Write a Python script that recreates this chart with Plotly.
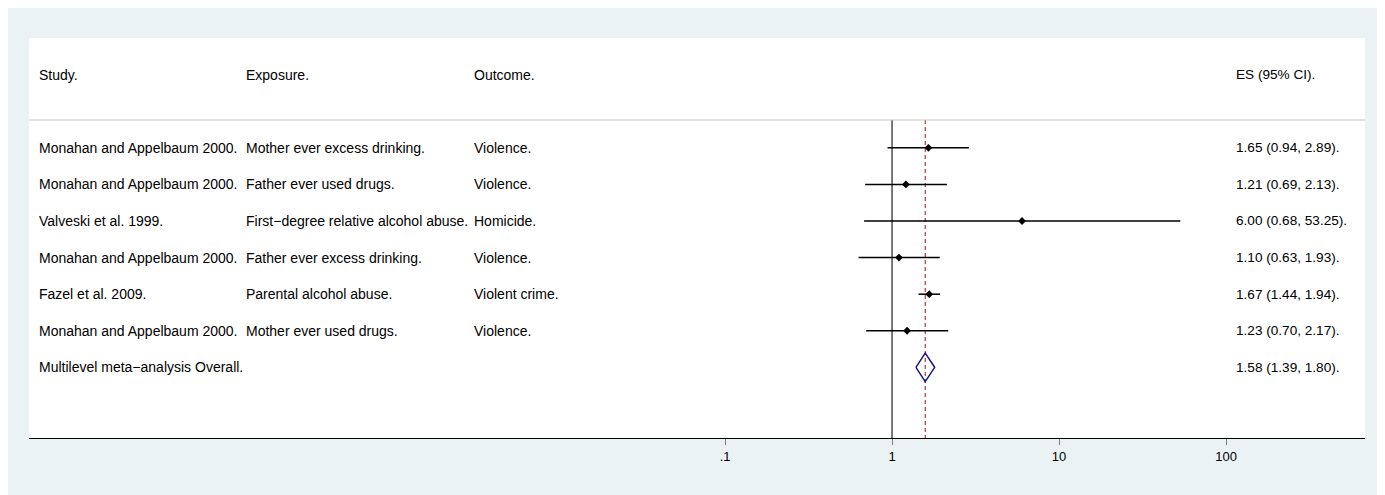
import plotly.graph_objects as go

studies = ["Monahan and Appelbaum 2000", "Monahan and Appelbaum 2000", "Valveski et al. 1999",
           "Monahan and Appelbaum 2000", "Fazel et al. 2009", "Monahan and Appelbaum 2000"]
exposures = ["Mother ever excess drinking", "Father ever used drugs", "First\u2212degree relative alcohol abuse",
             "Father ever excess drinking", "Parental alcohol abuse", "Mother ever used drugs"]
outcomes = ["Violence", "Violence", "Homicide", "Violence", "Violent crime", "Violence"]
es = [1.65, 1.21, 6.00, 1.10, 1.67, 1.23]
lo = [0.94, 0.69, 0.68, 0.63, 1.44, 0.70]
hi = [2.89, 2.13, 53.25, 1.93, 1.94, 2.17]
overall_label = "Multilevel meta\u2212analysis Overall"
overall = [1.58, 1.39, 1.80]
headers = ["Study", "Exposure", "Outcome", "ES (95% CI)"]
tick_vals = [0.1, 1, 10, 100]
tick_text = [".1", "1", "10", "100"]

BG = "#EAF2F3"
FONT = "Liberation Sans, Arial, Helvetica, sans-serif"
W, H = 1377, 487
L, R, T, B = 21, 20, 30, 57
PW = W - L - R
PAGE_OFF = 8  # body margin of the page

def px(x_page):
    return (x_page - PAGE_OFF - L) / PW

rows = [3 + i for i in range(len(es))]
row_overall = 3 + len(es)
y_header = 1.0
y_div = 2.24
y_bottom = 10.93

TXT = 14
NUM = 13.6

fig = go.Figure()

cx, cy = [], []
for y, a, b in zip(rows, lo, hi):
    cx += [a, b, None]
    cy += [y, y, None]
fig.add_trace(go.Scatter(x=[1, 1], y=[y_div, y_bottom], mode="lines",
                         line=dict(color="#6A6A6A", width=1.8), hoverinfo="skip", showlegend=False))
fig.add_trace(go.Scatter(x=[overall[0], overall[0]], y=[y_div, y_bottom], mode="lines",
                         line=dict(color="#B22222", width=1.1, dash="4px,3px"), hoverinfo="skip",
                         showlegend=False))
fig.add_trace(go.Scatter(x=cx, y=cy, mode="lines", line=dict(color="black", width=1.5),
                         hoverinfo="skip", showlegend=False))
fig.add_trace(go.Scatter(x=es, y=rows, mode="markers",
                         marker=dict(symbol="diamond", size=6, color="black"),
                         showlegend=False))
dh = 0.39
fig.add_trace(go.Scatter(x=[overall[1], overall[0], overall[2], overall[0], overall[1]],
                         y=[row_overall, row_overall - dh, row_overall, row_overall + dh, row_overall],
                         mode="lines", line=dict(color="#1A1A80", width=1.5),
                         hoverinfo="skip", showlegend=False))

ann = []
col_x = [37, 244, 472, 1234]

def add(xp, y, text, size):
    ann.append(dict(x=px(xp), y=y, xref="paper", yref="y", text=text,
                    xanchor="left", yanchor="middle", showarrow=False,
                    font=dict(family=FONT, size=size, color="black")))

for hx, h in zip(col_x[:3], headers[:3]):
    add(hx, y_header, h + ".", TXT)
add(col_x[3], y_header, headers[3] + ".", NUM)
for i, y in enumerate(rows):
    add(col_x[0], y, studies[i] + ".", TXT)
    add(col_x[1], y, exposures[i] + ".", TXT)
    add(col_x[2], y, outcomes[i] + ".", TXT)
    add(col_x[3], y, f"{es[i]:.2f} ({lo[i]:.2f}, {hi[i]:.2f}).", NUM)
add(col_x[0], row_overall, overall_label + ".", TXT)
add(col_x[3], row_overall, f"{overall[0]:.2f} ({overall[1]:.2f}, {overall[2]:.2f}).", NUM)

shapes = [
    dict(type="line", xref="paper", yref="y", x0=0, x1=1, y0=y_div, y1=y_div,
         line=dict(color="#C8C8C8", width=1.2)),
]

fig.update_layout(
    width=W, height=H,
    margin=dict(l=L, r=R, t=T, b=B, pad=0),
    paper_bgcolor=BG, plot_bgcolor="white",
    font=dict(family=FONT, size=12.5, color="black"),
    annotations=ann, shapes=shapes, showlegend=False,
    xaxis=dict(type="log", range=[-5.168, 2.832], tickvals=tick_vals, ticktext=tick_text,
               showgrid=False, zeroline=False, showline=True, linecolor="black", linewidth=1.3,
               ticks="outside", ticklen=6, tickcolor="#808080", tickwidth=1,
               tickfont=dict(family=FONT, size=13, color="black"), fixedrange=True),
    yaxis=dict(range=[y_bottom, 0], visible=False, showgrid=False, zeroline=False, fixedrange=True),
)

fig.write_html("out.html")
